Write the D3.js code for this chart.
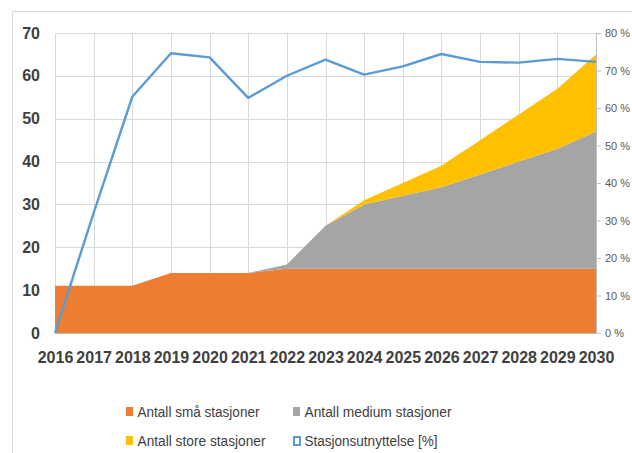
<!DOCTYPE html>
<html>
<head>
<meta charset="utf-8">
<script src="https://cdn.jsdelivr.net/npm/d3@7"></script>
<style>
  html, body { margin: 0; padding: 0; background: #fff; }
  svg { display: block; }
  text { font-family: "Liberation Sans", Arial, sans-serif; }
</style>
</head>
<body>
<svg id="chart" width="632" height="453"></svg>
<script>
// Station counts per year (stacked areas) and station utilisation (line, right axis)
const years = [2016, 2017, 2018, 2019, 2020, 2021, 2022, 2023, 2024, 2025, 2026, 2027, 2028, 2029, 2030];
const smallStations = [11, 11, 11, 14, 14, 14, 15, 15, 15, 15, 15, 15, 15, 15, 15];
const mediumStations = [0, 0, 0, 0, 0, 0, 1, 10, 15, 17, 19, 22, 25, 28, 32];
const largeStations = [0, 0, 0, 0, 0, 0, 0, 0, 1, 3, 5, 8, 11, 14, 18];
const utilization = [0, 32, 63, 74.6, 73.5, 62.7, 68.6, 72.9, 68.9, 71.1, 74.4, 72.3, 72.1, 73.1, 72.3];

const leftTicks = [0, 10, 20, 30, 40, 50, 60, 70];
const rightTicks = [0, 10, 20, 30, 40, 50, 60, 70, 80];

const seriesNames = ["Antall små stasjoner", "Antall medium stasjoner", "Antall store stasjoner"];
const lineName = "Stasjonsutnyttelse [%]";
const colors = { small: "#ED7D31", medium: "#A5A5A5", large: "#FFC000", line: "#5B9BD5" };

const svg = d3.select("#chart");
const plot = { left: 55, right: 596, top: 33, bottom: 333 };

// outer chart frame
svg.append("rect")
  .attr("x", 12.5).attr("y", 11.5)
  .attr("width", 700).attr("height", 500)
  .attr("fill", "none").attr("stroke", "#d9d9d9").attr("stroke-width", 1);

const x = d3.scalePoint().domain(years).range([plot.left, plot.right]);
const yL = d3.scaleLinear().domain([0, 70]).range([plot.bottom, plot.top]);
const yR = d3.scaleLinear().domain([0, 80]).range([plot.bottom, plot.top]);

// gridlines
const grid = svg.append("g").attr("stroke", "#d9d9d9").attr("stroke-width", 1);
grid.selectAll("line.h").data(leftTicks.filter(d => d > 0)).join("line")
  .attr("x1", plot.left).attr("x2", plot.right)
  .attr("y1", d => Math.round(yL(d)) + 0.5).attr("y2", d => Math.round(yL(d)) + 0.5);
grid.selectAll("line.v").data(years).join("line")
  .attr("x1", d => Math.round(x(d)) + 0.5).attr("x2", d => Math.round(x(d)) + 0.5)
  .attr("y1", plot.top).attr("y2", plot.bottom);

// stacked areas
const table = years.map((yr, i) => ({
  year: yr, small: smallStations[i], medium: mediumStations[i], large: largeStations[i]
}));
const stacked = d3.stack().keys(["small", "medium", "large"])(table);
const area = d3.area()
  .x(d => x(d.data.year))
  .y0(d => yL(d[0]))
  .y1(d => yL(d[1]));
svg.append("g").selectAll("path").data(stacked).join("path")
  .attr("d", area)
  .attr("fill", d => colors[d.key]);

// bottom axis line
svg.append("line")
  .attr("x1", plot.left).attr("x2", plot.right)
  .attr("y1", plot.bottom + 0.5).attr("y2", plot.bottom + 0.5)
  .attr("stroke", "#bfbfbf");

// utilisation line
const line = d3.line().x((d, i) => x(years[i])).y(d => yR(d));
svg.append("path")
  .datum(utilization)
  .attr("d", line)
  .attr("fill", "none")
  .attr("stroke", colors.line)
  .attr("stroke-width", 2.4)
  .attr("stroke-linejoin", "round");

// left axis
const axL = svg.append("g").attr("transform", `translate(${plot.left - 15},0)`)
  .call(d3.axisLeft(yL).tickValues(leftTicks).tickSize(0).tickPadding(0));
axL.select(".domain").remove();
axL.selectAll("text")
  .attr("fill", "#404040").attr("font-size", 16).attr("font-weight", "bold")
  .attr("font-family", "Liberation Sans, Arial, sans-serif");

// right axis, small labels so they fit inside the frame
const axR = svg.append("g").attr("transform", `translate(${plot.right},0)`)
  .call(d3.axisRight(yR).tickValues(rightTicks).tickSize(5).tickPadding(4)
    .tickFormat(d => d + " %"));
axR.select(".domain").attr("stroke", "#bfbfbf");
axR.selectAll(".tick line").attr("stroke", "#bfbfbf");
axR.selectAll("text")
  .attr("fill", "#595959").attr("font-size", 11)
  .attr("font-family", "Liberation Sans, Arial, sans-serif");

// bottom axis labels
const axB = svg.append("g").attr("transform", `translate(0,${plot.bottom + 19})`)
  .call(d3.axisBottom(x).tickSize(0).tickPadding(0));
axB.select(".domain").remove();
axB.selectAll("text")
  .attr("fill", "#404040").attr("font-size", 16).attr("font-weight", "bold")
  .attr("font-family", "Liberation Sans, Arial, sans-serif");

// legend
const legendItems = [
  { name: seriesNames[0], color: colors.small, hollow: false, sx: 126, tx: 137.5, y: 412, w: 122 },
  { name: seriesNames[1], color: colors.medium, hollow: false, sx: 293, tx: 304.5, y: 412, w: 147 },
  { name: seriesNames[2], color: colors.large, hollow: false, sx: 126, tx: 137.5, y: 441, w: 128 },
  { name: lineName, color: colors.line, hollow: true, sx: 293, tx: 304.5, y: 441, w: 133 }
];
const lg = svg.append("g");
legendItems.forEach(it => {
  if (it.hollow) {
    lg.append("rect").attr("x", it.sx + 1).attr("y", it.y - 4)
      .attr("width", 6).attr("height", 8)
      .attr("fill", "#fff").attr("stroke", it.color).attr("stroke-width", 2);
  } else {
    lg.append("rect").attr("x", it.sx).attr("y", it.y - 5)
      .attr("width", 7).attr("height", 9).attr("fill", it.color);
  }
  lg.append("text")
    .attr("x", it.tx).attr("y", it.y)
    .attr("dy", "0.35em")
    .attr("font-size", 14)
    .attr("fill", "#404040")
    .attr("textLength", it.w)
    .attr("lengthAdjust", "spacingAndGlyphs")
    .text(it.name);
});
</script>
</body>
</html>
